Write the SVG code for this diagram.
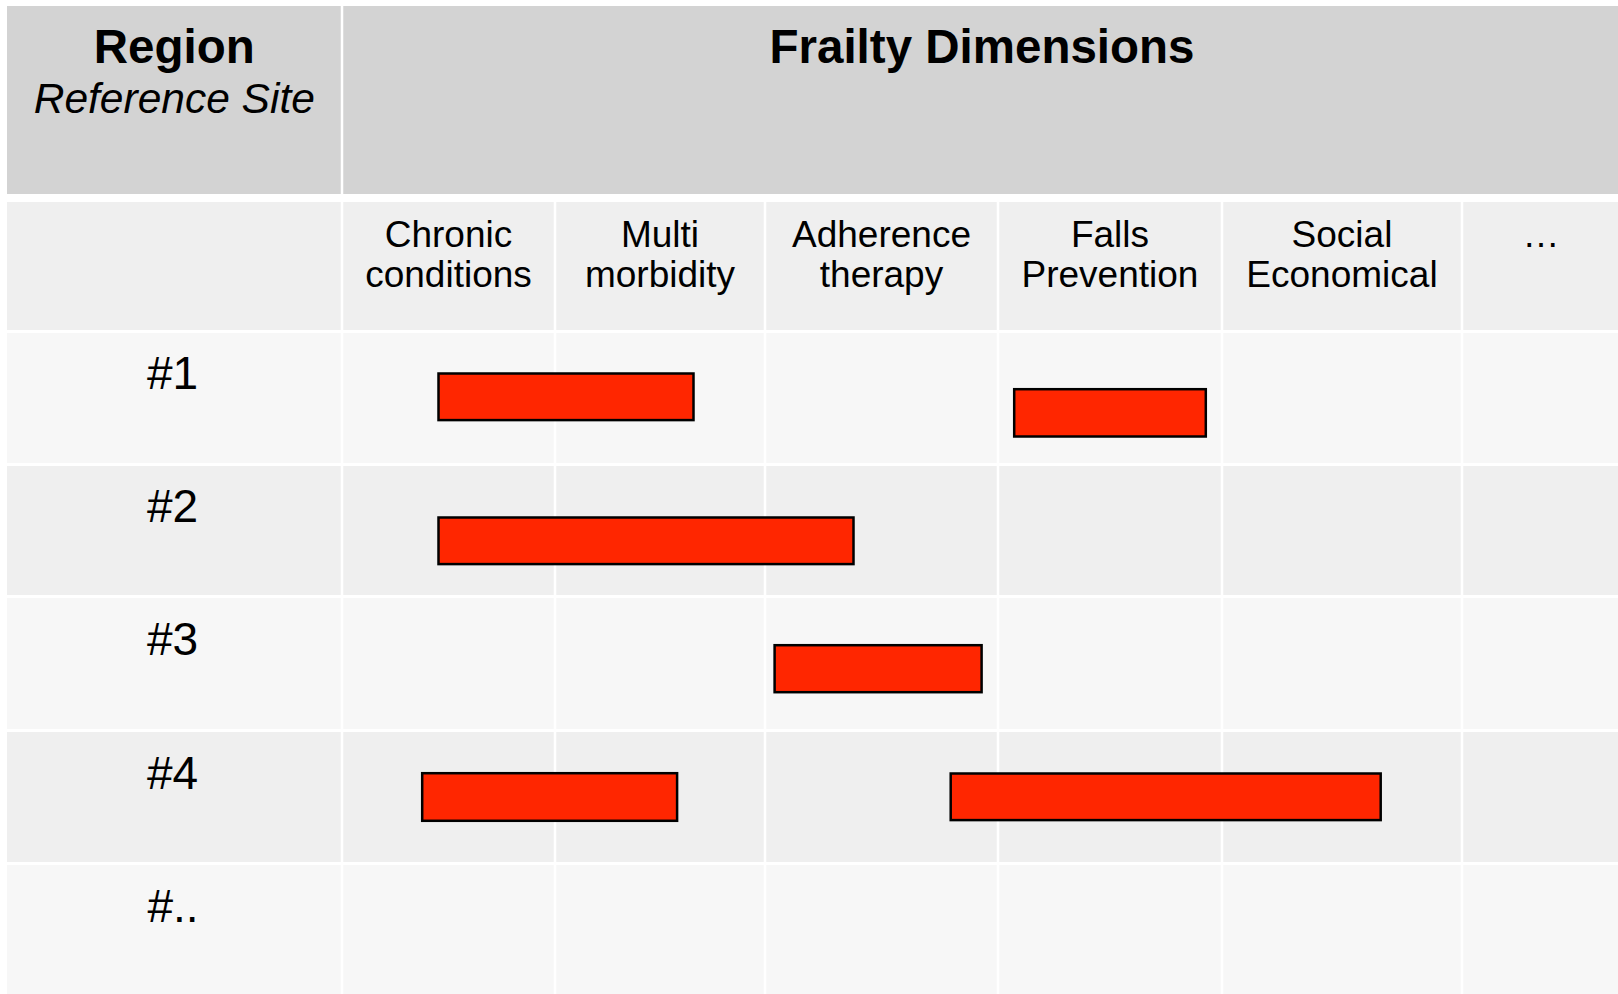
<svg xmlns="http://www.w3.org/2000/svg" width="1618" height="994" viewBox="0 0 1618 994">
<style>
  .hdr { fill: #d3d3d3; }
  .colhdr { fill: #efefef; }
  .odd { fill: #f7f7f7; }
  .even { fill: #efefef; }
  .grid { stroke: #ffffff; stroke-width: 2.5; }
  text { font-family: "Liberation Sans", Arial, sans-serif; fill: #000000; }
  .title { font-size: 47.5px; font-weight: bold; text-anchor: middle; }
  .sub { font-size: 42.5px; font-style: italic; text-anchor: middle; }
  .col { font-size: 37px; text-anchor: middle; }
  .rowlbl { font-size: 46px; text-anchor: middle; }
  .bar { fill: #ff2600; stroke: #000000; stroke-width: 2.5; }
</style>
<rect x="0" y="0" width="1618" height="994" fill="#ffffff"/>
<g id="table">
  <rect class="hdr" x="7" y="6" width="1611" height="188"/>
  <rect class="colhdr" x="7" y="202" width="1611" height="128"/>
  <rect class="odd" x="7" y="333" width="1611" height="130"/>
  <rect class="even" x="7" y="466" width="1611" height="129"/>
  <rect class="odd" x="7" y="598" width="1611" height="131"/>
  <rect class="even" x="7" y="732" width="1611" height="130"/>
  <rect class="odd" x="7" y="865" width="1611" height="129"/>
  <line class="grid" x1="342" y1="0" x2="342" y2="994"/>
  <line class="grid" x1="555" y1="200" x2="555" y2="994"/>
  <line class="grid" x1="765" y1="200" x2="765" y2="994"/>
  <line class="grid" x1="998" y1="200" x2="998" y2="994"/>
  <line class="grid" x1="1222" y1="200" x2="1222" y2="994"/>
  <line class="grid" x1="1462" y1="200" x2="1462" y2="994"/>
</g>
<g id="header-region">
  <text class="title" x="174.3" y="63.3">Region</text>
  <text class="sub" x="174.3" y="113.3">Reference Site</text>
</g>
<g id="header-frailty">
  <text class="title" x="982" y="63.3">Frailty Dimensions</text>
</g>
<g id="col-chronic"><text class="col" x="448.5" y="246.7">Chronic</text><text class="col" x="448.5" y="287.3">conditions</text></g>
<g id="col-multi"><text class="col" x="660" y="246.7">Multi</text><text class="col" x="660" y="287.3">morbidity</text></g>
<g id="col-adherence"><text class="col" x="881.5" y="246.7">Adherence</text><text class="col" x="881.5" y="287.3">therapy</text></g>
<g id="col-falls"><text class="col" x="1110" y="246.7">Falls</text><text class="col" x="1110" y="287.3">Prevention</text></g>
<g id="col-social"><text class="col" x="1342" y="246.7">Social</text><text class="col" x="1342" y="287.3">Economical</text></g>
<g id="col-more"><text class="col" x="1541" y="246.7">…</text></g>
<g id="row1-label"><text class="rowlbl" x="172.5" y="389">#1</text></g>
<g id="row2-label"><text class="rowlbl" x="172.5" y="522">#2</text></g>
<g id="row3-label"><text class="rowlbl" x="172.5" y="655">#3</text></g>
<g id="row4-label"><text class="rowlbl" x="172.5" y="788.5">#4</text></g>
<g id="row5-label"><text class="rowlbl" x="173" y="921.7">#..</text></g>
<g id="bars">
  <rect id="bar-r1a" class="bar" x="438.5" y="373.5" width="255" height="46.6"/>
  <rect id="bar-r1b" class="bar" x="1014.2" y="389.2" width="191.6" height="47.3"/>
  <rect id="bar-r2" class="bar" x="438.5" y="517.5" width="415" height="46.6"/>
  <rect id="bar-r3" class="bar" x="774.6" y="645.2" width="207" height="47"/>
  <rect id="bar-r4a" class="bar" x="422.2" y="773.2" width="254.9" height="47.6"/>
  <rect id="bar-r4b" class="bar" x="950.7" y="773.5" width="430" height="46.6"/>
</g>
<g id="connectors"></g>
</svg>
